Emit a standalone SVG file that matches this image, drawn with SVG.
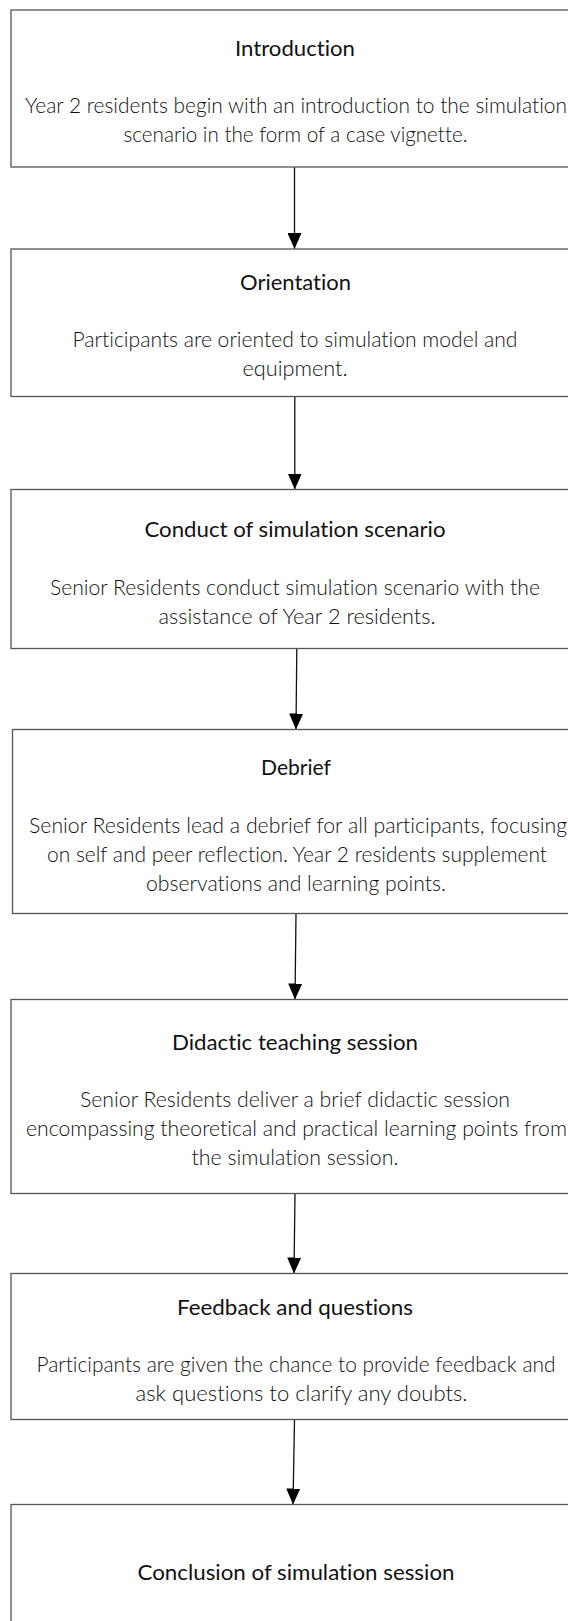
<svg xmlns="http://www.w3.org/2000/svg" width="568" height="1621" viewBox="0 0 568 1621">
<style>
  text { font-variant-ligatures: none; }
  .box { fill: #ffffff; stroke: #555555; stroke-width: 1.3; }
  .title { font-family: "Lato", "Liberation Sans", sans-serif; font-size: 21px; font-weight: 400; fill: #111111; text-anchor: middle; }
  .body { font-family: "Lato", "Liberation Sans", sans-serif; font-size: 21px; font-weight: 300; fill: #111111; text-anchor: middle; }
  .conn { stroke: #111111; stroke-width: 1.3; fill: none; }
</style>
<defs>
  <marker id="arrow" viewBox="0 0 16 14" refX="16" refY="7" markerWidth="16" markerHeight="14" markerUnits="userSpaceOnUse" orient="auto">
    <path d="M0,0 L16,7 L0,14 Z" fill="#000000"/>
  </marker>
</defs>
<rect x="0" y="0" width="568" height="1621" fill="#ffffff"/>

<g id="connectors">
  <line class="conn" x1="294.5" y1="167" x2="294.5" y2="249" marker-end="url(#arrow)"/>
  <line class="conn" x1="294.8" y1="396.5" x2="294.8" y2="489.5" marker-end="url(#arrow)"/>
  <line class="conn" x1="296.8" y1="648.5" x2="296" y2="729.5" marker-end="url(#arrow)"/>
  <line class="conn" x1="296" y1="913.5" x2="295" y2="999.5" marker-end="url(#arrow)"/>
  <line class="conn" x1="295" y1="1193.5" x2="294" y2="1273.5" marker-end="url(#arrow)"/>
  <line class="conn" x1="294.5" y1="1419.5" x2="293" y2="1504.5" marker-end="url(#arrow)"/>
</g>

<g id="introduction">
  <rect class="box" x="11" y="10" width="580" height="157"/>
  <text class="title" x="295" y="56" textLength="120" lengthAdjust="spacingAndGlyphs">Introduction</text>
  <text class="body" x="296" y="113" textLength="542" lengthAdjust="spacingAndGlyphs">Year 2 residents begin with an introduction to the simulation</text>
  <text class="body" x="295.5" y="142" textLength="344" lengthAdjust="spacingAndGlyphs">scenario in the form of a case vignette.</text>
</g>

<g id="orientation">
  <rect class="box" x="11" y="249" width="580" height="147.5"/>
  <text class="title" x="295.5" y="290" textLength="111" lengthAdjust="spacingAndGlyphs">Orientation</text>
  <text class="body" x="295" y="347" textLength="445" lengthAdjust="spacingAndGlyphs">Participants are oriented to simulation model and</text>
  <text class="body" x="295" y="376" textLength="105" lengthAdjust="spacingAndGlyphs">equipment.</text>
</g>

<g id="conduct">
  <rect class="box" x="11" y="489.5" width="580" height="159"/>
  <text class="title" x="295" y="537" textLength="301" lengthAdjust="spacingAndGlyphs">Conduct of simulation scenario</text>
  <text class="body" x="295" y="595" textLength="490" lengthAdjust="spacingAndGlyphs">Senior Residents conduct simulation scenario with the</text>
  <text class="body" x="297" y="624" textLength="277" lengthAdjust="spacingAndGlyphs">assistance of Year 2 residents.</text>
</g>

<g id="debrief">
  <rect class="box" x="12.5" y="729.5" width="580" height="184"/>
  <text class="title" x="296" y="775" textLength="70" lengthAdjust="spacingAndGlyphs">Debrief</text>
  <text class="body" x="298" y="833" textLength="538" lengthAdjust="spacingAndGlyphs">Senior Residents lead a debrief for all participants, focusing</text>
  <text class="body" x="297" y="862" textLength="500" lengthAdjust="spacingAndGlyphs">on self and peer reflection. Year 2 residents supplement</text>
  <text class="body" x="296" y="891" textLength="300" lengthAdjust="spacingAndGlyphs">observations and learning points.</text>
</g>

<g id="didactic">
  <rect class="box" x="11" y="999.5" width="580" height="194"/>
  <text class="title" x="295" y="1050" textLength="246" lengthAdjust="spacingAndGlyphs">Didactic teaching session</text>
  <text class="body" x="295" y="1107" textLength="430" lengthAdjust="spacingAndGlyphs">Senior Residents deliver a brief didactic session</text>
  <text class="body" x="296.5" y="1136" textLength="541" lengthAdjust="spacingAndGlyphs">encompassing theoretical and practical learning points from</text>
  <text class="body" x="295" y="1165" textLength="207" lengthAdjust="spacingAndGlyphs">the simulation session.</text>
</g>

<g id="feedback">
  <rect class="box" x="11" y="1273.5" width="580" height="146"/>
  <text class="title" x="295" y="1315" textLength="236" lengthAdjust="spacingAndGlyphs">Feedback and questions</text>
  <text class="body" x="296" y="1372" textLength="519" lengthAdjust="spacingAndGlyphs">Participants are given the chance to provide feedback and</text>
  <text class="body" x="301.5" y="1401" textLength="332" lengthAdjust="spacingAndGlyphs">ask questions to clarify any doubts.</text>
</g>

<g id="conclusion">
  <rect class="box" x="11" y="1504.5" width="580" height="200"/>
  <text class="title" x="296" y="1580" textLength="317" lengthAdjust="spacingAndGlyphs">Conclusion of simulation session</text>
</g>
</svg>
